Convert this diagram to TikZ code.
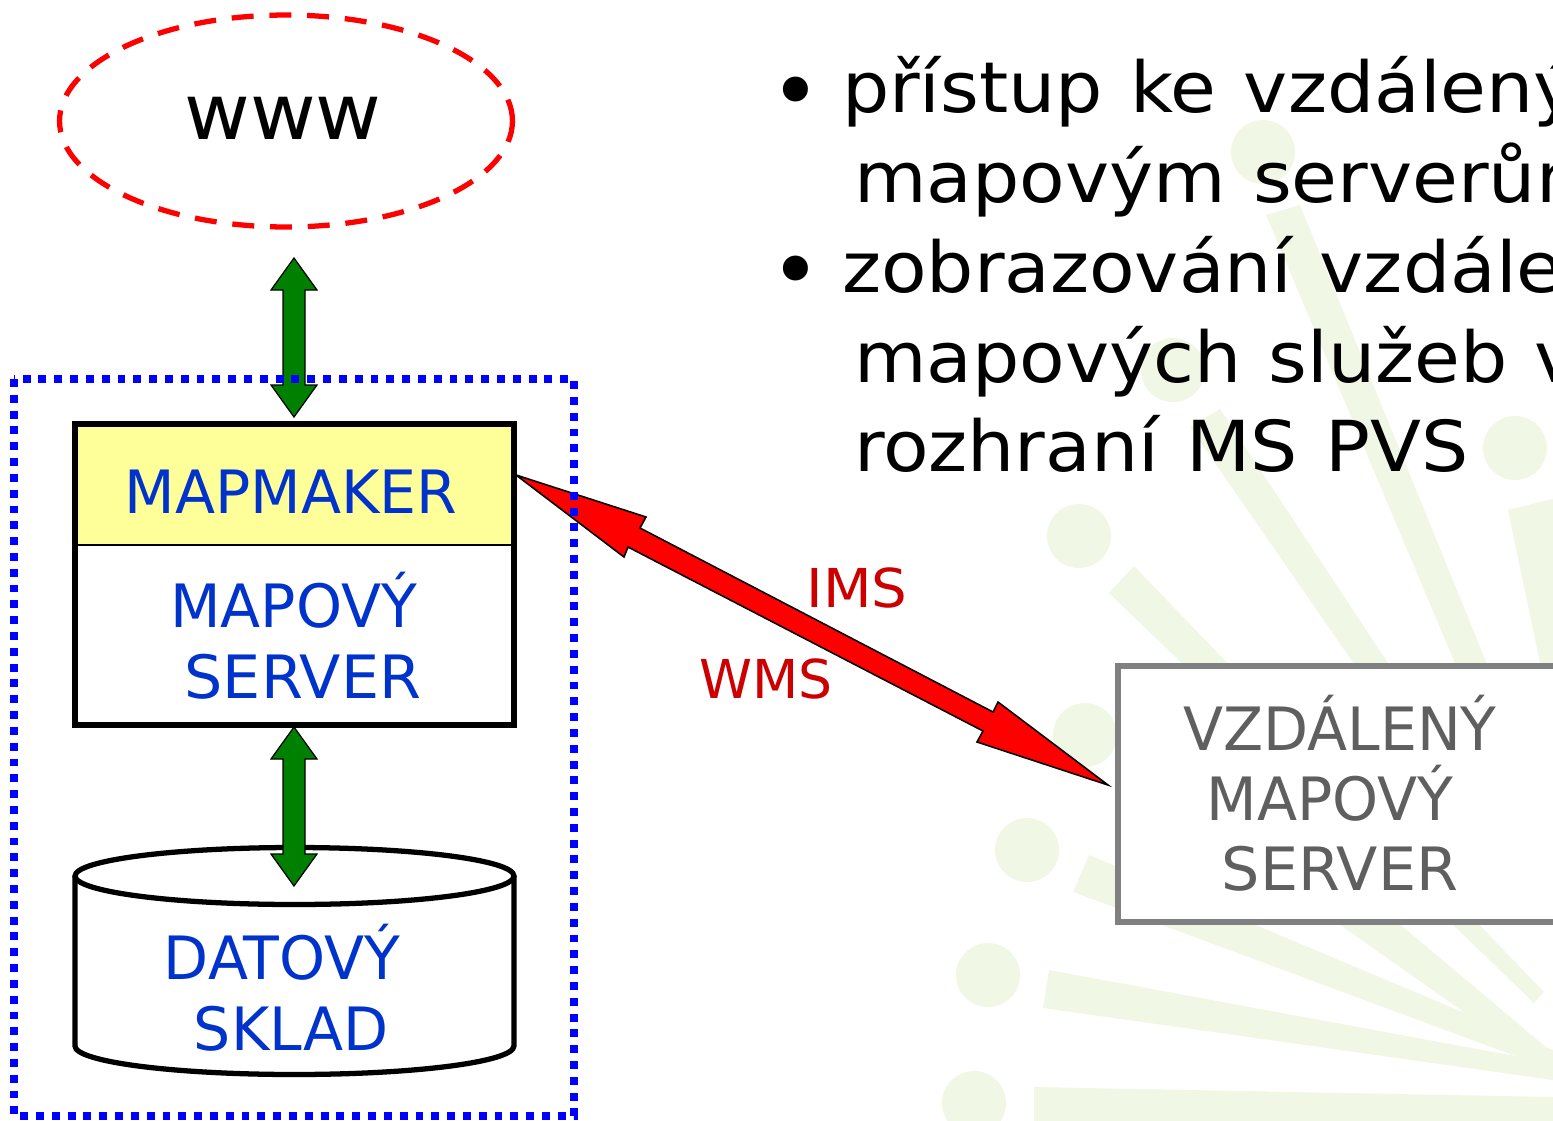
\documentclass[tikz,border=0pt]{standalone}
\usepackage{fontspec}
\setmainfont{DejaVu Sans}
\newfontfamily\blockfont[FakeStretch=0.98]{DejaVu Sans}
\newfontfamily\serverfont[FakeStretch=1.01]{DejaVu Sans}
\newfontfamily\listfont[FakeStretch=1.06,WordSpace=1.15]{DejaVu Sans}
\newfontfamily\wwwfont[FakeStretch=1.04]{DejaVu Sans}
\newfontfamily\imsfont[FakeStretch=1.05]{DejaVu Sans}
\usetikzlibrary{positioning,shapes.geometric}
\definecolor{bluetext}{RGB}{0,51,204}
\definecolor{redtext}{RGB}{204,0,0}
\definecolor{greytext}{RGB}{95,95,95}
\definecolor{paleyellow}{RGB}{255,255,153}
\definecolor{paleburst}{RGB}{240,247,228}
\definecolor{darkgreen}{RGB}{0,128,0}
\begin{document}
\begin{tikzpicture}[x=0.02cm,y=-0.02cm,inner sep=0pt,outer sep=0pt,
blocktext/.style={text=bluetext,font=\blockfont\fontsize{34}{40.5}\selectfont,align=center},
remotetext/.style={text=greytext,font=\blockfont\fontsize{34}{40}\selectfont,align=center},
linktext/.style={text=redtext,font=\fontsize{30.5}{34}\selectfont},
bullettext/.style={font=\listfont\fontsize{40}{50.5}\selectfont,anchor=base west},
bulletmark/.style={font=\fontsize{49}{50}\selectfont,anchor=base west},
burstdot/.style={fill=paleburst,circle,minimum size=1.28cm},
updown/.style={draw=black,fill=darkgreen,line width=0.7pt,line join=miter}]
\clip (0,0) rectangle (1553,1120);
% watermark
\foreach \xa/\ya/\xb/\yb/\xc/\yc/\xd/\yd in {1266/215/1300/205/1624/1000/1597/1000,
  1190/427/1220/409/1548/905/1521/905,1109/593/1134/566/1544/992/1534/1003,
  1508/510/1560/497/1600/663/1540/663,1305/900/1371/900/1553/1053/1553/1075,
  1089/855/1553/1050/1553/1070/1073/892,1049/970/1553/1063/1553/1080/1043/1008,
  1034/1087/1553/1097/1553/1125/1034/1125}
  \fill[paleburst] (\xa,\ya) -- (\xb,\yb) -- (\xc,\yc) -- (\xd,\yd) -- cycle;
\foreach \xa/\ya in {1263/152,1173/370,1515/448,1079/536,1085/735,1027/850,988/975,974/1103}
  \node[burstdot] (dot\xa) at (\xa,\ya) {};
% remote server
\node[draw=gray,line width=3pt,fill=white,minimum width=9.4cm,minimum height=5.12cm,anchor=north west] (remote) at (1118,666) {};
\node[remotetext] (remotename) at (1340,793) {VZDÁLENÝ\\MAPOVÝ\kern11.3pt\\{\serverfont SERVER}};
% www
\node[draw=red,line width=3pt,ellipse,minimum width=9.06cm,minimum height=4.24cm,dash pattern=on 12.5pt off 9pt] (www) at (286,121) {};
\node[font=\wwwfont\fontsize{44}{50}\selectfont] (wwwname) at (283,118) {www};
% data store
\draw[line width=3pt,fill=white] (75,876) -- (75,1046) arc[start angle=180,end angle=360,x radius=4.39cm,y radius=0.57cm] -- (514,876);
\draw[line width=3pt,fill=white] (294.5,876) ellipse [x radius=4.39cm,y radius=0.57cm];
\node[blocktext] (storename) at (282,988) {DATOVÝ\\\ SKLAD};
% map server
\node[fill=paleyellow,minimum width=8.78cm,minimum height=2.42cm,anchor=north west] (maker) at (75,424) {};
\node[fill=white,minimum width=8.78cm,minimum height=3.6cm,anchor=north west] (mapserver) at (75,545) {};
\draw[line width=1pt] (maker.south west) -- (maker.south east);
\draw[line width=3pt] (maker.north west) rectangle (mapserver.south east);
\node[blocktext] (makername) at (291,492) {MAPMAKER};
\node[blocktext] (servername) at (293.5,636) {MAPOVÝ\\\ {\serverfont SERVER}};
% labels
\node[linktext,font=\imsfont\fontsize{30.5}{34}\selectfont] (ims) at (857,588) {IMS};
\node[linktext] (wms) at (766,679) {WMS};
% arrows
\foreach \ya/\yb/\yc/\yd in {258/290/385/417,727/759/854/886}
  \filldraw[updown] (294,\ya) -- (317,\yb) -- (305,\yb) -- (305,\yc) -- (317,\yc) -- (294,\yd) -- (271,\yc) -- (283,\yc) -- (283,\yb) -- (271,\yb) -- cycle;
% red link
\coordinate (linka) at (516,475);
\coordinate (linkb) at (1108,785);
\filldraw[draw=black,fill=red,line width=0.9pt] (linka) -- (646,517) -- (640,528) -- (993,712) -- (998,702) -- (linkb) -- (977,742) -- (983,731) -- (628,547) -- (624,557) -- cycle;
% dotted frame
\draw[blue,line width=4.4pt,dash pattern=on 4.5pt off 4.5pt] (14,379) rectangle (574,1116);
% bullet list
\node[bulletmark] (b1) at (770,121.5) {•};
\node[bullettext] (t1) at (842,112) {přístup ke vzdáleným};
\node[bullettext] (t2) at (854,202) {mapovým serverům};
\node[bulletmark] (b2) at (770,300.5) {•};
\node[bullettext] (t3) at (842,292) {zobrazování vzdálených};
\node[bullettext] (t4) at (854,382) {mapových služeb v};
\node[bullettext] (t5) at (854,471) {rozhraní MS PVS};
\end{tikzpicture}
\end{document}
